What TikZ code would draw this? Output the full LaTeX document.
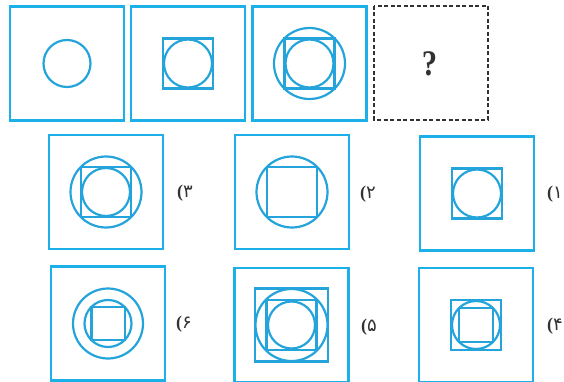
\documentclass[tikz,border=0pt]{standalone}
\usepackage{fontspec}
\newfontfamily\farsifont{DejaVu Sans}
\newfontfamily\qfont{Liberation Serif}
\definecolor{boxblue}{RGB}{28,176,232}
\definecolor{shpblue}{RGB}{36,164,218}
\definecolor{inkgray}{RGB}{50,50,50}
\newcommand\sqfig[2]{\draw[fig] (#1) ++(-#2,-#2) rectangle ++(2*#2,2*#2);}
\newcommand\cifig[2]{\draw[fig] (#1) circle (#2);}
\newcommand\outerbox[1]{\draw[outer] (#1) ++(-57,-57) rectangle ++(114,114);}
\newcommand\optlbl[1]{{\qfont\bfseries(}{\farsifont #1}}
\begin{document}
\begin{tikzpicture}[x=1pt,y=-1pt,
  outer/.style={draw=boxblue,line width=2.8pt},
  fig/.style={draw=shpblue,line width=2.2pt},
  dashbox/.style={draw=inkgray,line width=1.1pt,dash pattern=on 4pt off 2.5pt},
  lbl/.style={text=inkgray,font=\fontsize{18}{18}\selectfont,inner sep=0pt},
  qmark/.style={text=inkgray,font=\qfont\bfseries\fontsize{36}{36}\selectfont,inner sep=0pt,xscale=0.85}]
\useasboundingbox (0,0) rectangle (564,382);
% centres
\coordinate (t1) at (67,63.5);
\coordinate (t2) at (188,63.5);
\coordinate (t3) at (309.5,63.5);
\coordinate (t4) at (431,63);
\coordinate (o3) at (106,192);
\coordinate (o2) at (292,192);
\coordinate (o1) at (477,193.5);
\coordinate (o6) at (108,323.5);
\coordinate (o5) at (291.5,325);
\coordinate (o4) at (476,325);
% top row
\outerbox{t1}
\cifig{t1}{23.5}
\outerbox{t2}
\sqfig{t2}{25}
\cifig{t2}{24}
\outerbox{t3}
\cifig{t3}{35.5}
\sqfig{t3}{25}
\cifig{t3}{24}
\draw[dashbox] (t4) ++(-57,-57) rectangle ++(114,114);
\node[qmark] (q) at (429.5,63.5) {?};
% middle row
\outerbox{o3}
\cifig{o3}{35.5}
\sqfig{o3}{25}
\cifig{o3}{24}
\node[lbl] (l3) at (185,193) {\optlbl{۳}};
\outerbox{o2}
\cifig{o2}{35.5}
\sqfig{o2}{25}
\node[lbl] (l2) at (368,194) {\optlbl{۲}};
\outerbox{o1}
\sqfig{o1}{25}
\cifig{o1}{24}
\node[lbl,anchor=east] (l1) at (563,194) {\optlbl{۱}};
% bottom row
\outerbox{o6}
\cifig{o6}{35}
\cifig{o6}{23.5}
\sqfig{o6}{16.6}
\node[lbl] (l6) at (184,324) {\optlbl{۶}};
\outerbox{o5}
\sqfig{o5}{36.5}
\cifig{o5}{36}
\sqfig{o5}{25}
\cifig{o5}{23.5}
\node[lbl] (l5) at (369,327) {\optlbl{۵}};
\outerbox{o4}
\sqfig{o4}{25}
\cifig{o4}{24}
\sqfig{o4}{16.8}
\node[lbl,anchor=east] (l4) at (563,326) {\optlbl{۴}};
\end{tikzpicture}
\end{document}
